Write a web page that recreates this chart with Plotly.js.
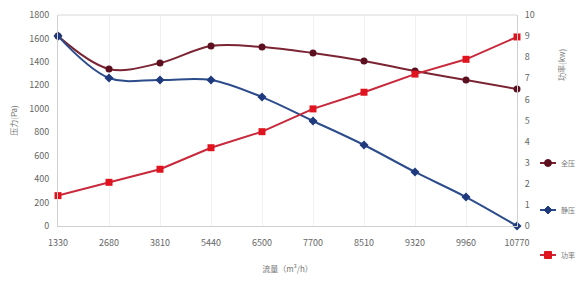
<!DOCTYPE html>
<html><head><meta charset="utf-8">
<script src="https://cdn.plot.ly/plotly-3.0.1.min.js"></script>
<style>html,body{margin:0;padding:0;background:#fff}#c{width:577px;height:284px}</style>
</head><body><div id="c"></div>
<script>
const flow = ['1330','2680','3810','5440','6500','7700','8510','9320','9960','10770'];
const totalPressure = [1620,1340,1390,1535,1527,1476,1408,1322,1245,1169];
const staticPressure = [1620,1263,1246,1246,1100,896,691,461,247,0];
const power = [1.44,2.07,2.69,3.71,4.47,5.55,6.34,7.2,7.9,8.96];
const names = ['全压','静压','功率'];
const font = 'Noto Sans CJK SC, Noto Sans, sans-serif';

const styles = [
 {line:'#7b2432', marker:'#5c0f1f', symbol:'circle'},
 {line:'#2c4c8c', marker:'#1f3a7c', symbol:'diamond'},
 {line:'#c8283a', marker:'#e0141e', symbol:'square'}
];

const traces = [
 {x: flow, y: totalPressure, name: names[0], type:'scatter', mode:'lines+markers',
  line:{color:styles[0].line, width:2, shape:'spline', smoothing:1},
  marker:{symbol:styles[0].symbol, size:7, color:styles[0].marker}, cliponaxis:false},
 {x: flow, y: staticPressure, name: names[1], type:'scatter', mode:'lines+markers',
  line:{color:styles[1].line, width:2, shape:'spline', smoothing:1},
  marker:{symbol:styles[1].symbol, size:7, color:styles[1].marker}, cliponaxis:false},
 {x: flow, y: power, name: names[2], type:'scatter', mode:'lines+markers', yaxis:'y2',
  line:{color:styles[2].line, width:2},
  marker:{symbol:styles[2].symbol, size:7, color:styles[2].marker}, cliponaxis:false}
];

// custom legend (keys drawn as shapes, labels as annotations)
const legY = [0.2986, 0.0758, -0.1374];
const legX0 = 1.0501, legX1 = 1.085, legXm = 1.0675, legXt = 1.0915;
const shapes = [{type:'line', xref:'paper', yref:'paper', x0:0, x1:1, y0:1, y1:1, line:{color:'#d8d8d8', width:1}}];
const annotations = [{text:'功率(kw)', xref:'paper', yref:'paper', x:1.113, y:0.85, textangle:-90,
   showarrow:false, font:{size:8, color:'#777'}}];
names.forEach((n,i)=>{
  const s = styles[i];
  shapes.push({type:'line', xref:'paper', yref:'paper', x0:legX0, x1:legX1, y0:legY[i], y1:legY[i], line:{color:s.line, width:2}});
  const base = {xref:'paper', yref:'paper', xsizemode:'pixel', ysizemode:'pixel', xanchor:legXm, yanchor:legY[i],
    fillcolor:s.marker, line:{color:s.marker, width:1}};
  if (s.symbol==='circle') shapes.push(Object.assign({type:'circle', x0:-3.5, x1:3.5, y0:-3.5, y1:3.5}, base));
  else if (s.symbol==='square') shapes.push(Object.assign({type:'rect', x0:-3.5, x1:3.5, y0:-3.5, y1:3.5}, base));
  else shapes.push(Object.assign({type:'path', path:'M0,-4L4,0L0,4L-4,0Z'}, base));
  annotations.push({text:n, xref:'paper', yref:'paper', x:legXt, y:legY[i], xanchor:'left', yanchor:'middle',
    showarrow:false, font:{size:7, color:'#777'}});
});

const layout = {
 width:577, height:284, margin:{l:58, r:60, t:15, b:58, autoexpand:false},
 paper_bgcolor:'#fff', plot_bgcolor:'#fff',
 font:{family:font, size:9, color:'#666'},
 showlegend:false,
 xaxis:{type:'category', range:[0,9], showgrid:true, gridcolor:'#f0f0f0',
   showline:true, linecolor:'#d0d0d0', ticks:'', ticklabelstandoff:8, tickfont:{size:9, color:'#666'},
   title:{text:'流量（m³/h）', font:{size:8, color:'#777'}, standoff:18}, zeroline:false},
 yaxis:{range:[0,1800], dtick:200, showgrid:false, showline:true, linecolor:'#d0d0d0',
   ticks:'', ticklabelstandoff:6, tickfont:{size:9, color:'#666'}, zeroline:false,
   title:{text:'压力(Pa)', font:{size:8, color:'#777'}, standoff:10}},
 yaxis2:{range:[0,10], dtick:1, overlaying:'y', side:'right', showgrid:false, showline:true,
   linecolor:'#d0d0d0', ticks:'', ticklabelstandoff:5, tickfont:{size:9, color:'#666'}, zeroline:false},
 shapes: shapes,
 annotations: annotations
};
Plotly.newPlot('c', traces, layout, {displayModeBar:false, staticPlot:true});
</script></body></html>
